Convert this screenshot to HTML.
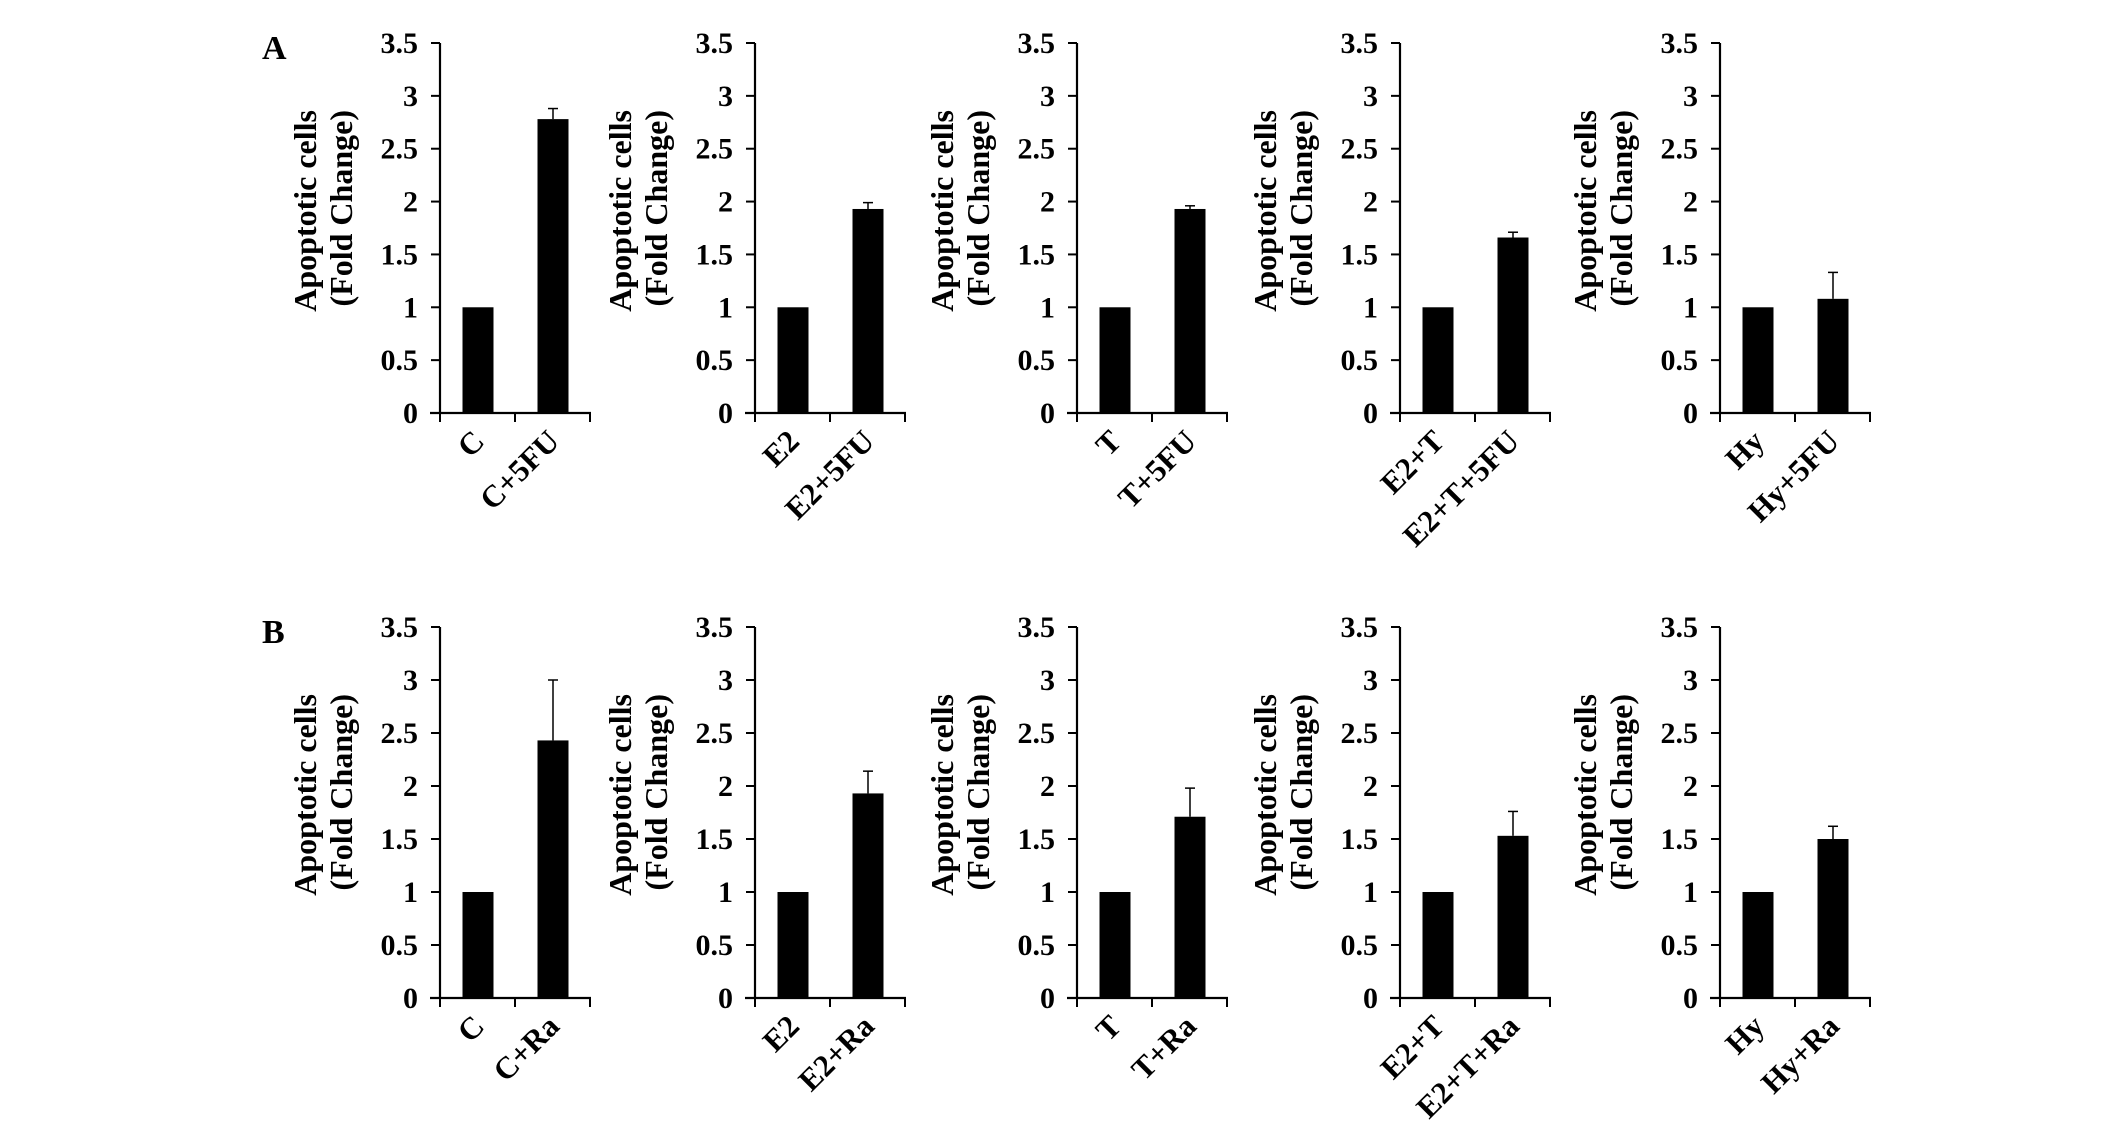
<!DOCTYPE html>
<html><head><meta charset="utf-8"><style>
html,body{margin:0;padding:0;background:#fff;width:2126px;height:1137px;overflow:hidden}
svg text{font-family:"Liberation Serif",serif;font-weight:bold;fill:#000}
</style></head><body>
<svg id="fig" width="2126" height="1137" viewBox="0 0 2126 1137" xmlns="http://www.w3.org/2000/svg">
<text x="262" y="59" font-size="34">A</text>
<text x="262" y="643" font-size="34">B</text>
</svg>
<script>
const rowA_labels = [["C","C+5FU"],["E2","E2+5FU"],["T","T+5FU"],["E2+T","E2+T+5FU"],["Hy","Hy+5FU"]];
const rowA_values = [[1,2.78],[1,1.93],[1,1.93],[1,1.66],[1,1.08]];
const rowA_errors = [[0,0.10],[0,0.06],[0,0.03],[0,0.05],[0,0.25]];
const rowB_labels = [["C","C+Ra"],["E2","E2+Ra"],["T","T+Ra"],["E2+T","E2+T+Ra"],["Hy","Hy+Ra"]];
const rowB_values = [[1,2.43],[1,1.93],[1,1.71],[1,1.53],[1,1.50]];
const rowB_errors = [[0,0.57],[0,0.21],[0,0.27],[0,0.23],[0,0.12]];
const yTicks = [0,0.5,1,1.5,2,2.5,3,3.5];
const yTickLabels = ["0","0.5","1","1.5","2","2.5","3","3.5"];

const svg = document.getElementById('fig');
const NS = 'http://www.w3.org/2000/svg';
const axisXs = [440,755,1077,1400,1720];
function mk(tag, attrs){const e=document.createElementNS(NS,tag);for(const k in attrs)e.setAttribute(k,attrs[k]);svg.appendChild(e);return e;}

function drawRow(rowName, labels, values, errors, top, zero){
  const yMax = 3.5;
  const y = v => zero - (v/yMax)*(zero-top);
  axisXs.forEach((ax,p)=>{
    const g = 'panel-'+rowName+'-'+(p+1);
    let e = mk('line',{x1:ax,y1:top,x2:ax,y2:zero,stroke:'#000','stroke-width':2.2});
    
    
    e = mk('line',{x1:ax-10,y1:zero,x2:ax+151,y2:zero,stroke:'#000','stroke-width':2.2});
    
    
    [0,75,150].forEach(dx=>{
      const t = mk('line',{x1:ax+dx,y1:zero,x2:ax+dx,y2:zero+9,stroke:'#000','stroke-width':2});
      
      
    });
    yTicks.forEach((v,i)=>{
      const t = mk('line',{x1:ax-9,y1:y(v),x2:ax,y2:y(v),stroke:'#000','stroke-width':2});
      
      
      const tl = mk('text',{x:ax-22,y:y(v)+10,'font-size':30,'text-anchor':'end'});
      tl.textContent = yTickLabels[i];
      
      
    });
    const tx1 = ax-124, tx2 = ax-88, ty = top+67;
    const t1 = mk('text',{x:tx1,y:ty,'font-size':32,'text-anchor':'end',transform:`rotate(-90 ${tx1} ${ty})`});
    t1.textContent = 'Apoptotic cells';
    
    
    const t2 = mk('text',{x:tx2,y:ty,'font-size':32,'text-anchor':'end',transform:`rotate(-90 ${tx2} ${ty})`});
    t2.textContent = '(Fold Change)';
    
    
    [38,113].forEach((cxo,b)=>{
      const cx = ax+cxo, v = values[p][b], er = errors[p][b];
      const r = mk('rect',{x:cx-15.5,y:y(v),width:31,height:zero-y(v),fill:'#000'});
      
      
      if(er>0){
        const l = mk('line',{x1:cx,y1:y(v),x2:cx,y2:y(v+er),stroke:'#000','stroke-width':1.5});
        
        
        const c = mk('line',{x1:cx-5,y1:y(v+er),x2:cx+5,y2:y(v+er),stroke:'#000','stroke-width':1.5});
        
        
      }
      const lx = cx+8, ly = zero+30;
      const xl = mk('text',{x:lx,y:ly,'font-size':31,'text-anchor':'end',transform:`rotate(-45 ${lx} ${ly})`});
      xl.textContent = labels[p][b];
      
      
    });
  });
}
drawRow('a', rowA_labels, rowA_values, rowA_errors, 43, 413);
drawRow('b', rowB_labels, rowB_values, rowB_errors, 627, 998);
</script>
</body></html>
